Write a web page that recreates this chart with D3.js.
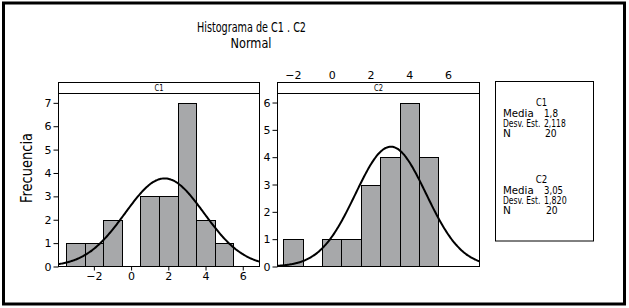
<!DOCTYPE html>
<html>
<head>
<meta charset="utf-8">
<script src="https://cdn.jsdelivr.net/npm/d3@7"></script>
<style>
  html, body { margin: 0; padding: 0; background: #fff; }
  svg { display: block; }
  text { font-family: "DejaVu Sans", sans-serif; }
</style>
</head>
<body>
<svg id="chart" width="629" height="308"></svg>
<script>
// ---- Data ----
const panels = ["C1", "C2"];
const c1Centers = [-3, -2, -1, 0, 1, 2, 3, 4, 5];
const c1Counts  = [1, 1, 2, 0, 3, 3, 7, 2, 1];
const c2Centers = [-2, -1, 0, 1, 2, 3, 4, 5];
const c2Counts  = [1, 0, 1, 1, 3, 4, 6, 4];
const binWidth = 1;
const means = [1.8, 3.05];
const sds = [2.118, 1.820];
const ns = [20, 20];
const meanLabels = ["1,8", "3,05"];
const sdLabels = ["2,118", "1,820"];
const nLabels = ["20", "20"];
const xTicks = [-2, 0, 2, 4, 6];
const y1Ticks = [0, 1, 2, 3, 4, 5, 6, 7];
const y2Ticks = [0, 1, 2, 3, 4, 5, 6];

const svg = d3.select("#chart");

// text helper with condensed width
function label(parent, x, y, str, size, len, anchor) {
  const t = parent.append("text").attr("x", x).attr("y", y).attr("font-size", size)
    .attr("text-anchor", anchor || "start").text(str);
  if (len) t.attr("textLength", len).attr("lengthAdjust", "spacingAndGlyphs");
  return t;
}

// outer frame
svg.append("rect").attr("x", 3.5).attr("y", 3).attr("width", 621).attr("height", 301)
  .attr("fill", "none").attr("stroke", "#000").attr("stroke-width", 3);

// titles
label(svg, 251.5, 32, "Histograma de C1 . C2", 14.5, 109, "middle");
label(svg, 251, 48, "Normal", 14.5, 41, "middle");

// y label
svg.append("text")
  .attr("transform", "translate(32,168) rotate(-90)")
  .attr("text-anchor", "middle").attr("font-size", 15)
  .attr("textLength", 70).attr("lengthAdjust", "spacingAndGlyphs").text("Frecuencia");

const plotTop = 93.5, plotBottom = 266.5, stripTop = 82.5;

const cfg = [
  { name: "C1", centers: c1Centers, counts: c1Counts, x0: 58.5, x1: 259.5,
    xDom: [-3.9, 6.9], yDom: [0, 7.4], yTicks: y1Ticks, axis: "bottom" },
  { name: "C2", centers: c2Centers, counts: c2Counts, x0: 277.5, x1: 479.5,
    xDom: [-2.79, 7.62], yDom: [0, 6.33], yTicks: y2Ticks, axis: "top" }
];

function normPdf(x, m, s) {
  return Math.exp(-0.5 * ((x - m) / s) ** 2) / (s * Math.sqrt(2 * Math.PI));
}

cfg.forEach((p, i) => {
  const x = d3.scaleLinear().domain(p.xDom).range([p.x0, p.x1]);
  const y = d3.scaleLinear().domain(p.yDom).range([plotBottom, plotTop]);
  const g = svg.append("g");

  const clipId = "clip" + i;
  svg.append("clipPath").attr("id", clipId).append("rect")
    .attr("x", p.x0).attr("y", plotTop).attr("width", p.x1 - p.x0).attr("height", plotBottom - plotTop);

  // bars
  const bins = p.centers.map((c, k) => ({ c, n: p.counts[k] })).filter(d => d.n > 0);
  g.selectAll("rect.bar").data(bins).enter().append("rect")
    .attr("class", "bar")
    .attr("x", d => Math.round(x(d.c - binWidth / 2)) + 0.5)
    .attr("width", d => Math.round(x(d.c + binWidth / 2)) - Math.round(x(d.c - binWidth / 2)))
    .attr("y", d => Math.round(y(d.n)) + 0.5)
    .attr("height", d => plotBottom - Math.round(y(d.n)) - 0.5)
    .attr("fill", "#a7a8aa").attr("stroke", "#000").attr("stroke-width", 1);

  // normal curve
  const pts = d3.range(0, 201).map(k => {
    const xv = p.xDom[0] + (p.xDom[1] - p.xDom[0]) * k / 200;
    return [xv, ns[i] * binWidth * normPdf(xv, means[i], sds[i])];
  });
  g.append("path").datum(pts)
    .attr("clip-path", `url(#${clipId})`)
    .attr("d", d3.line().x(d => x(d[0])).y(d => y(d[1])).curve(d3.curveBasis))
    .attr("fill", "none").attr("stroke", "#000").attr("stroke-width", 2);

  // frame & strip
  g.append("rect").attr("x", p.x0).attr("y", stripTop).attr("width", p.x1 - p.x0)
    .attr("height", plotBottom - stripTop).attr("fill", "none").attr("stroke", "#000");
  g.append("line").attr("x1", p.x0).attr("x2", p.x1).attr("y1", plotTop).attr("y2", plotTop)
    .attr("stroke", "#000");
  label(g, (p.x0 + p.x1) / 2, 91, p.name, 9, 9, "middle");

  // y axis
  const ya = svg.append("g").attr("transform", `translate(${p.x0},0)`)
    .call(d3.axisLeft(y).tickValues(p.yTicks).tickSize(5).tickPadding(2).tickFormat(d3.format("d")));
  ya.select(".domain").remove();
  ya.selectAll(".tick text").attr("font-size", 11).attr("fill", "#000");

  // x axis
  if (p.axis === "bottom") {
    const xa = svg.append("g").attr("transform", `translate(0,${plotBottom})`)
      .call(d3.axisBottom(x).tickValues(xTicks).tickSize(4).tickPadding(2).tickFormat(d3.format("d")));
    xa.select(".domain").remove();
    xa.selectAll(".tick text").attr("font-size", 11).attr("fill", "#000");
  } else {
    const xa = svg.append("g").attr("transform", `translate(0,${stripTop})`)
      .call(d3.axisTop(x).tickValues(xTicks).tickSize(0).tickPadding(4).tickFormat(d3.format("d")));
    xa.select(".domain").remove();
    xa.selectAll(".tick text").attr("font-size", 11).attr("fill", "#000");
  }
});

// legend box
const lg = svg.append("g");
lg.append("rect").attr("x", 495.5).attr("y", 81.5).attr("width", 98).attr("height", 159.5)
  .attr("fill", "none").attr("stroke", "#000");
const blockTop = [106, 182.5];
const nameLen = [11, 11.5];
const valLens = [[14, 21.7, 11.7], [19, 22.7, 11.7]];
const fs = 10.5;
panels.forEach((name, i) => {
  const b = blockTop[i];
  label(lg, 541.5, b, name, fs, nameLen[i], "middle");
  const rows = [["Media", meanLabels[i], 30.7], ["Desv. Est.", sdLabels[i], 37.3], ["N", nLabels[i], null]];
  rows.forEach((r, k) => {
    const yy = b + 11 + k * 10.2;
    label(lg, 503, yy, r[0], fs, r[2]);
    label(lg, k === 2 ? 545 + i : 544, yy, r[1], fs, valLens[i][k]);
  });
});
</script>
</body>
</html>
